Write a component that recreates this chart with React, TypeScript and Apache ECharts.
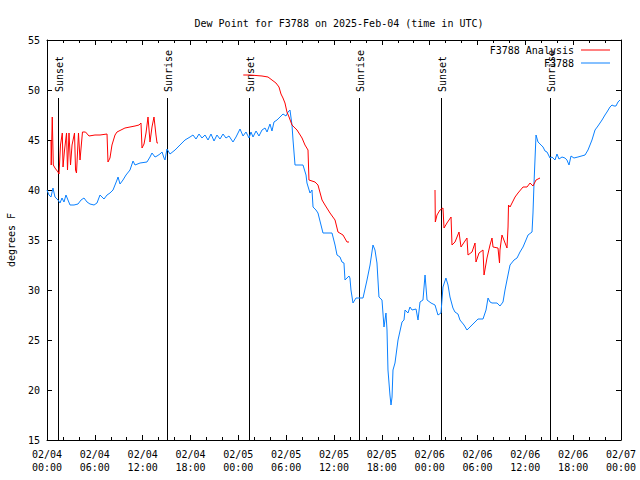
import React, { useEffect, useRef } from "react";
import * as echarts from "echarts";

// hours since 2025-02-04 00:00 UTC
const obsHours = [0.0,0.25,0.5,0.75,1.0,1.38,1.63,1.88,2.13,2.38,2.63,2.89,3.39,3.89,4.27,4.64,5.02,5.39,5.9,6.27,6.65,7.15,7.53,7.9,8.28,8.53,8.78,8.91,9.16,9.53,9.91,10.41,10.79,11.04,11.67,12.54,12.92,13.17,13.55,13.8,14.17,14.43,14.68,14.8,15.05,15.43,16.06,16.68,17.31,17.94,18.31,18.69,19.07,19.44,19.82,20.2,20.57,20.95,21.32,21.7,22.08,22.45,22.83,23.33,23.71,24.21,24.59,24.96,25.34,25.59,25.84,26.22,26.59,26.97,27.35,27.6,27.97,28.22,28.47,28.85,29.23,29.6,29.98,30.23,30.48,30.73,30.86,31.11,32.11,32.49,32.61,32.99,33.24,33.37,33.74,33.99,34.62,35.75,36.13,36.38,36.75,37.0,37.25,37.38,37.88,38.0,38.13,38.38,38.76,39.01,39.64,40.14,40.52,40.89,41.14,41.39,41.64,42.02,42.27,42.52,42.65,42.77,43.02,43.15,43.28,43.4,43.65,44.03,44.53,44.78,44.91,45.28,45.53,45.79,46.29,46.54,46.79,47.16,47.42,47.67,48.17,48.67,49.04,49.42,49.67,50.04,50.3,50.55,50.92,51.17,51.55,51.8,52.31,52.68,53.06,53.31,53.69,54.06,54.69,55.07,55.32,55.57,55.82,56.45,56.82,57.2,57.45,57.7,58.08,58.58,58.96,59.33,59.71,60.08,60.34,60.84,60.96,61.09,61.21,61.34,61.59,61.97,62.22,62.47,62.72,62.97,63.09,63.35,63.72,63.97,64.22,64.6,64.97,65.22,65.48,65.73,66.1,66.6,67.49,67.86,68.11,68.36,68.74,69.11,69.62,69.99,70.24,70.62,70.87,71.12,71.37,71.62,71.87];
const obsDew = [40.0,39.5,39.3,40.2,39.3,39.0,38.7,39.2,38.8,39.5,39.0,38.5,38.5,38.6,39.0,39.2,38.8,38.6,38.5,38.7,39.5,39.1,39.5,39.7,40.0,40.5,41.0,41.3,40.6,41.0,41.5,42.0,42.9,42.5,42.7,42.8,43.3,43.7,43.3,43.4,43.6,43.8,43.2,43.0,44.1,43.6,44.0,44.5,45.0,45.3,45.5,45.1,45.6,45.2,45.5,45.0,45.6,44.9,45.5,45.1,45.6,45.2,45.4,44.8,45.3,46.1,45.4,45.8,45.2,45.8,45.3,45.9,45.4,46.0,46.2,45.8,46.6,45.9,46.8,47.0,47.3,47.6,47.4,47.8,48.0,46.5,45.0,42.5,42.5,41.5,40.7,39.7,40.0,38.3,38.0,37.7,35.7,35.7,34.5,33.5,33.3,32.8,32.7,31.0,31.4,31.2,30.0,28.7,29.2,29.2,29.2,31.0,32.5,34.5,34.0,32.7,29.3,29.0,26.3,27.7,26.0,22.0,19.5,18.5,19.3,22.0,22.7,25.0,26.8,27.0,28.0,27.7,28.3,28.0,28.1,27.0,28.8,29.0,31.5,29.0,28.7,28.5,27.5,27.7,30.3,31.2,30.5,29.3,28.2,27.8,27.6,27.0,26.5,26.0,26.3,26.5,26.8,27.1,27.1,28.0,29.2,28.8,28.7,28.7,28.4,28.8,30.0,31.0,32.5,33.0,33.2,33.8,34.3,35.0,35.5,35.8,37.7,40.7,43.0,45.5,44.8,44.5,44.3,43.9,43.8,43.4,43.2,43.3,43.0,43.6,43.1,43.3,43.2,43.0,42.5,43.4,43.2,43.3,43.5,44.0,44.5,45.0,46.0,46.4,47.0,47.5,47.8,48.3,48.5,48.4,48.4,48.8,49.0];

// null marks a gap in the analysis series
const anaHours = [0.5,0.53,0.66,0.79,1.0,1.38,1.51,1.69,1.92,2.01,2.2,2.45,2.57,2.76,2.95,3.14,3.45,3.58,3.7,3.95,4.14,4.45,4.83,5.27,6.02,6.65,7.53,7.65,7.9,8.15,8.53,8.78,9.28,9.78,10.41,11.04,11.54,11.79,11.92,12.17,12.42,12.67,12.92,13.17,13.42,13.67,13.8,13.92,
  19.0,
  24.62,25.46,26.97,27.72,28.22,28.72,29.1,29.35,29.6,29.85,30.1,30.36,30.73,30.98,31.36,31.99,32.36,32.74,32.86,33.62,33.99,34.5,34.87,35.5,36.13,36.5,37.13,37.63,37.88,
  43.0,
  48.67,48.71,48.92,49.3,49.67,49.8,50.17,50.68,50.8,51.18,51.68,51.93,52.68,52.81,53.31,53.69,53.81,54.19,54.69,54.82,55.19,55.57,55.82,55.95,56.57,56.76,56.82,57.07,57.7,57.83,57.89,58.08,58.71,59.08,59.71,60.21,60.59,60.96,61.34,61.84];
const anaDew = [45.0,42.5,47.3,42.5,42.2,41.8,41.6,44.5,45.7,42.3,44.0,45.7,42.0,45.7,42.5,44.5,45.7,42.0,41.7,45.7,43.0,45.8,45.8,45.4,45.5,45.5,45.6,42.8,43.2,44.5,45.5,45.8,46.0,46.2,46.3,46.4,46.5,46.7,44.2,44.6,45.7,47.3,44.8,46.3,47.3,45.5,44.7,44.7,
  null,
  51.5,51.5,51.4,51.3,51.0,50.7,50.3,49.6,49.2,48.7,47.8,47.3,46.5,46.3,46.0,45.2,44.5,44.0,41.0,40.8,40.5,39.0,38.5,37.7,37.0,35.8,35.5,34.8,34.8,
  null,
  40.0,36.8,37.5,38.0,38.2,36.2,36.7,37.3,34.5,34.8,35.8,34.3,35.2,33.5,33.8,34.7,32.8,33.7,34.0,31.5,33.2,34.5,35.2,34.3,34.2,32.7,34.0,35.5,34.2,36.3,38.5,38.3,39.3,39.7,40.3,40.3,40.7,40.4,41.0,41.2];

const sunHours = [1.42, 15.1, 25.38, 39.1, 49.46, 63.14];
const sunLabels = ["Sunset", "Sunrise", "Sunset", "Sunrise", "Sunset", "Sunrise"];

const FONT = "DejaVu Sans Mono";

function fmtTime(h: number): string {
  const day = 4 + Math.floor(h / 24);
  const hr = Math.round(h % 24);
  const dd = String(day).padStart(2, "0");
  const hh = String(hr).padStart(2, "0");
  return `02/${dd}\n${hh}:00`;
}

export default function App() {
  const ref = useRef<HTMLDivElement>(null);
  useEffect(() => {
    if (!ref.current) return;
    const chart = echarts.init(ref.current, null, { renderer: "svg" });
    const obsData = obsHours.map((h, i) => [h, obsDew[i]]);
    const anaData = anaHours.map((h, i) => [h, anaDew[i] === null ? "-" : anaDew[i]]);
    const sunData = sunHours.map((h) => [h, 15]);
    const baseX = {
      type: "value",
      min: 0,
      max: 72,
      interval: 6,
      splitLine: { show: false },
      axisLine: { show: true, onZero: false, lineStyle: { color: "#000", width: 1 } },
      axisTick: { inside: true, length: 5, lineStyle: { color: "#000" } },
      minorTick: { show: true, splitNumber: 3, length: 3, lineStyle: { color: "#000" } },
    };
    const baseY = {
      type: "value",
      min: 15,
      max: 55,
      interval: 5,
      splitLine: { show: false },
      axisLine: { show: true, onZero: false, lineStyle: { color: "#000", width: 1 } },
      axisTick: { inside: true, length: 5, lineStyle: { color: "#000" } },
    };
    chart.setOption({
      animation: false,
      backgroundColor: "#fff",
      textStyle: { fontFamily: FONT },
      title: {
        text: "Dew Point for F3788 on 2025-Feb-04 (time in UTC)",
        left: 334,
        top: 13,
        textAlign: "center",
        textStyle: { fontFamily: FONT, fontSize: 10, fontWeight: "normal", color: "#000" },
      },
      legend: {
        orient: "vertical",
        right: 30,
        top: 45,
        padding: 0,
        align: "right",
        itemWidth: 29,
        itemHeight: 1,
        itemGap: 3,
        textStyle: { fontFamily: FONT, fontSize: 10, color: "#000", padding: [0, 2, 0, 0] },
        data: [
          { name: "F3788 Analysis", icon: "rect" },
          { name: "F3788", icon: "rect" },
        ],
      },
      grid: { left: 47, right: 19, top: 40, bottom: 40, containLabel: false, outerBoundsMode: "none" },
      xAxis: [
        {
          ...baseX,
          position: "bottom",
          axisLabel: {
            formatter: (v: number) => fmtTime(v),
            fontFamily: FONT,
            fontSize: 10,
            color: "#000",
            lineHeight: 13,
            margin: 8,
          },
        },
        { ...baseX, position: "top", axisLabel: { show: false } },
      ],
      yAxis: [
        {
          ...baseY,
          position: "left",
          name: "degrees F",
          nameLocation: "middle",
          nameGap: 31,
          nameRotate: 90,
          nameTextStyle: { fontFamily: FONT, fontSize: 10, color: "#000" },
          axisLabel: { fontFamily: FONT, fontSize: 10, color: "#000", margin: 7 },
        },
        { ...baseY, position: "right", axisLabel: { show: false } },
      ],
      series: [
        {
          type: "custom",
          name: "sun",
          xAxisIndex: 0,
          yAxisIndex: 0,
          data: sunData,
          silent: true,
          z: 1,
          renderItem: (params: any, api: any) => {
            const h = api.value(0);
            const p0 = api.coord([h, 15]);
            const p1 = api.coord([h, 49.2]);
            const x = Math.round(p0[0]) + 0.5;
            return {
              type: "group",
              children: [
                {
                  type: "line",
                  shape: { x1: x, y1: p0[1], x2: x, y2: p1[1] },
                  style: { stroke: "#000", lineWidth: 1 },
                },
                {
                  type: "text",
                  x: x + 1,
                  y: p1[1] - 6,
                  rotation: Math.PI / 2,
                  style: {
                    text: sunLabels[params.dataIndex],
                    fontFamily: FONT,
                    fontSize: 10,
                    fill: "#000",
                    align: "left",
                    verticalAlign: "middle",
                  },
                },
              ],
            };
          },
        },
        {
          type: "line",
          name: "F3788 Analysis",
          data: anaData,
          showSymbol: false,
          symbol: "none",
          connectNulls: false,
          lineStyle: { color: "#ff0000", width: 1 },
          itemStyle: { color: "#ff0000" },
          z: 3,
        },
        {
          type: "line",
          name: "F3788",
          data: obsData,
          showSymbol: false,
          symbol: "none",
          lineStyle: { color: "#0a80ff", width: 1 },
          itemStyle: { color: "#0a80ff" },
          z: 2,
        },
      ],
    });
    return () => chart.dispose();
  }, []);
  return (
    <div
      ref={ref}
      style={{ position: "fixed", left: 0, top: 0, width: 640, height: 480, background: "#fff" }}
    />
  );
}
